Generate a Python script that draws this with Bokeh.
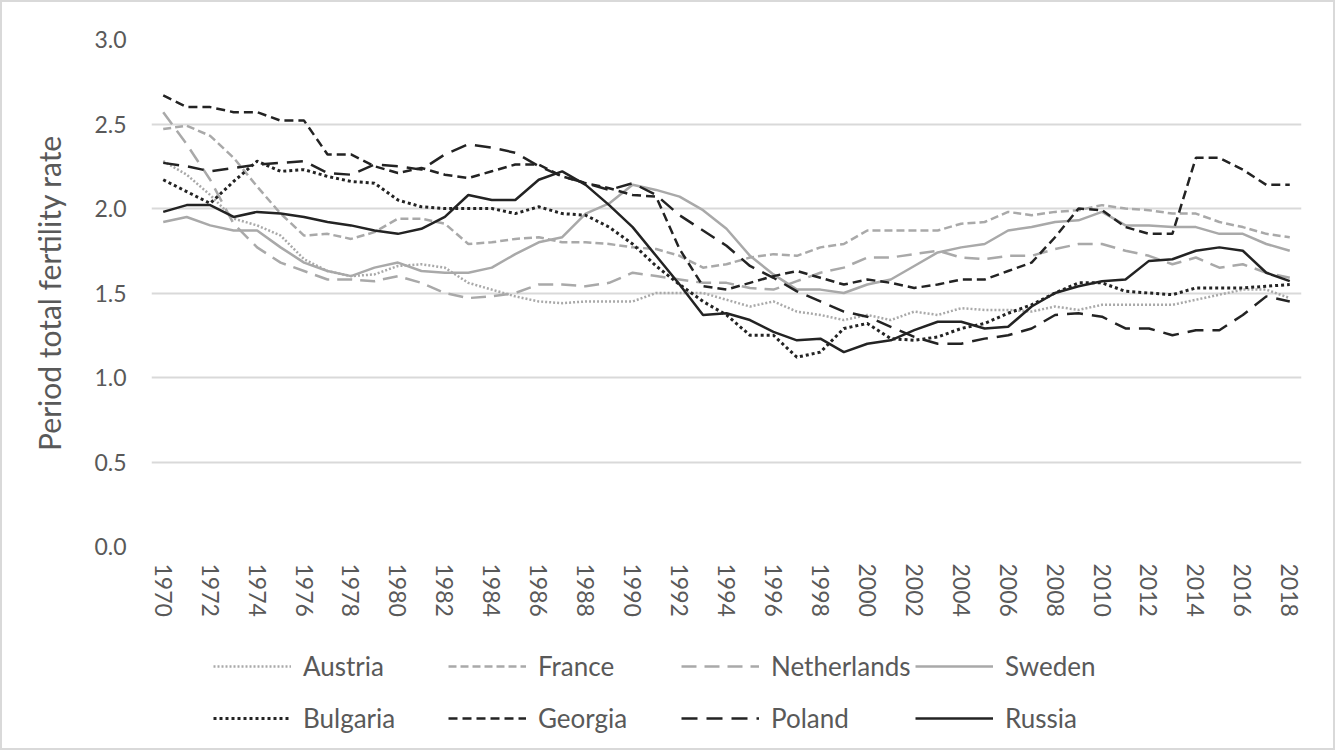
from bokeh.plotting import figure
from bokeh.layouts import column
from bokeh.models import Range1d, FixedTicker, PrintfTickFormatter, Legend, LegendItem
from bokeh.embed import file_html
from bokeh.resources import INLINE

years = list(range(1970, 2019))

austria = [2.28, 2.20, 2.08, 1.94, 1.90, 1.84, 1.70, 1.63, 1.60, 1.61,
           1.66, 1.67, 1.65, 1.56, 1.52, 1.48, 1.45, 1.44, 1.45, 1.45,
           1.45, 1.50, 1.50, 1.50, 1.46, 1.42, 1.45, 1.39, 1.37, 1.34,
           1.37, 1.34, 1.39, 1.37, 1.41, 1.40, 1.40, 1.39, 1.42, 1.40,
           1.43, 1.43, 1.43, 1.43, 1.46, 1.49, 1.52, 1.52, 1.47]
france = [2.47, 2.49, 2.43, 2.30, 2.13, 1.97, 1.84, 1.85, 1.82, 1.86,
          1.94, 1.94, 1.91, 1.79, 1.80, 1.82, 1.83, 1.80, 1.80, 1.79,
          1.77, 1.76, 1.72, 1.65, 1.67, 1.71, 1.73, 1.72, 1.77, 1.79,
          1.87, 1.87, 1.87, 1.87, 1.91, 1.92, 1.98, 1.96, 1.98, 1.99,
          2.02, 2.00, 1.99, 1.97, 1.97, 1.92, 1.89, 1.85, 1.83]
netherlands = [2.57, 2.38, 2.17, 1.91, 1.77, 1.68, 1.63, 1.58, 1.58, 1.57,
               1.60, 1.56, 1.50, 1.47, 1.48, 1.50, 1.55, 1.55, 1.54, 1.56,
               1.62, 1.60, 1.58, 1.56, 1.56, 1.53, 1.52, 1.57, 1.62, 1.65,
               1.71, 1.71, 1.73, 1.75, 1.71, 1.70, 1.72, 1.72, 1.76, 1.79,
               1.79, 1.75, 1.72, 1.67, 1.71, 1.65, 1.67, 1.62, 1.59]
sweden = [1.92, 1.95, 1.90, 1.87, 1.87, 1.77, 1.68, 1.63, 1.60, 1.65,
          1.68, 1.63, 1.62, 1.62, 1.65, 1.73, 1.80, 1.83, 1.97, 2.03,
          2.14, 2.11, 2.07, 1.99, 1.88, 1.72, 1.61, 1.52, 1.52, 1.50,
          1.55, 1.58, 1.66, 1.74, 1.77, 1.79, 1.87, 1.89, 1.92, 1.93,
          1.98, 1.90, 1.90, 1.89, 1.89, 1.85, 1.85, 1.79, 1.75]
bulgaria = [2.17, 2.10, 2.03, 2.16, 2.28, 2.22, 2.23, 2.19, 2.16, 2.15,
            2.05, 2.01, 2.00, 2.00, 2.00, 1.97, 2.01, 1.97, 1.96, 1.89,
            1.79, 1.66, 1.55, 1.45, 1.37, 1.25, 1.25, 1.12, 1.15, 1.29,
            1.32, 1.23, 1.22, 1.24, 1.29, 1.32, 1.38, 1.43, 1.50, 1.56,
            1.56, 1.51, 1.50, 1.49, 1.53, 1.53, 1.53, 1.54, 1.55]
georgia = [2.67, 2.60, 2.60, 2.57, 2.57, 2.52, 2.52, 2.32, 2.32, 2.25,
           2.21, 2.24, 2.20, 2.18, 2.22, 2.26, 2.26, 2.19, 2.15, 2.12,
           2.08, 2.07, 1.76, 1.54, 1.52, 1.56, 1.60, 1.63, 1.59, 1.55,
           1.58, 1.56, 1.53, 1.55, 1.58, 1.58, 1.63, 1.68, 1.83, 2.00,
           1.99, 1.89, 1.85, 1.85, 2.30, 2.30, 2.23, 2.14, 2.14]
poland = [2.27, 2.25, 2.22, 2.24, 2.26, 2.27, 2.28, 2.21, 2.20, 2.26,
          2.25, 2.23, 2.32, 2.38, 2.36, 2.33, 2.25, 2.19, 2.15, 2.11,
          2.15, 2.08, 1.96, 1.87, 1.78, 1.66, 1.59, 1.51, 1.45, 1.39,
          1.36, 1.30, 1.24, 1.20, 1.20, 1.23, 1.25, 1.29, 1.37, 1.38,
          1.36, 1.29, 1.29, 1.25, 1.28, 1.28, 1.37, 1.48, 1.45]
russia = [1.98, 2.02, 2.02, 1.95, 1.98, 1.97, 1.95, 1.92, 1.90, 1.87,
          1.85, 1.88, 1.95, 2.08, 2.05, 2.05, 2.17, 2.22, 2.14, 2.02,
          1.89, 1.72, 1.55, 1.37, 1.38, 1.34, 1.27, 1.22, 1.23, 1.15,
          1.20, 1.22, 1.28, 1.33, 1.33, 1.29, 1.30, 1.42, 1.50, 1.54,
          1.57, 1.58, 1.69, 1.70, 1.75, 1.77, 1.75, 1.62, 1.57]

y_ticks = [0.0, 0.5, 1.0, 1.5, 2.0, 2.5, 3.0]
x_ticks = list(range(1970, 2019, 2))

GRAY = "#a9a9a9"
BLACK = "#232323"
TXT = "#595959"
FONT = "Lato"
W = 1331

p = figure(width=W, height=624, output_backend="svg", toolbar_location=None,
           x_range=Range1d(1969.5, 2018.5), y_range=Range1d(0, 3.0),
           min_border_left=149, min_border_right=32, min_border_top=37,
           min_border_bottom=80)
p.outline_line_color = None
p.xgrid.grid_line_color = None
p.ygrid.grid_line_color = "#d9d9d9"
p.ygrid.grid_line_width = 2

p.yaxis.ticker = FixedTicker(ticks=y_ticks)
p.yaxis.formatter = PrintfTickFormatter(format="%.1f")
p.xaxis.ticker = FixedTicker(ticks=x_ticks)
p.xaxis.major_label_orientation = "vertical"

for ax in (p.xaxis, p.yaxis):
    ax.axis_line_color = None
    ax.major_tick_line_color = None
    ax.minor_tick_line_color = None
    ax.major_label_text_font = FONT
    ax.major_label_text_font_size = "23px"
    ax.major_label_text_color = TXT

p.yaxis.major_label_standoff = 19
p.xaxis.major_label_standoff = 11
p.yaxis.axis_label = "Period total fertility rate"
p.yaxis.axis_label_text_font = FONT
p.yaxis.axis_label_text_font_size = "30px"
p.yaxis.axis_label_text_font_style = "normal"
p.yaxis.axis_label_text_color = TXT
p.yaxis.axis_label_standoff = 24

series = [
    ("Austria", austria, GRAY, 2.5, "2 2"),
    ("France", france, GRAY, 2.5, "8 4"),
    ("Netherlands", netherlands, GRAY, 2.5, "15 8"),
    ("Sweden", sweden, GRAY, 2.5, "solid"),
    ("Bulgaria", bulgaria, BLACK, 3, "3 3"),
    ("Georgia", georgia, BLACK, 2.5, "9 5"),
    ("Poland", poland, BLACK, 2.5, "16 9"),
    ("Russia", russia, BLACK, 2.5, "solid"),
]

for name, vals, col, w, dash in series:
    p.line(years, vals, line_color=col, line_width=w, line_dash=dash)

# legend panel: same series, drawn outside its visible range so only the keys show
pl = figure(width=W, height=122, output_backend="svg", toolbar_location=None,
            x_range=Range1d(1969.5, 2018.5), y_range=Range1d(10, 11),
            x_axis_location=None, y_axis_location=None,
            min_border_left=0, min_border_right=0, min_border_top=0,
            min_border_bottom=0)
pl.outline_line_color = None
pl.grid.grid_line_color = None

keys = {}
for name, vals, col, w, dash in series:
    keys[name] = pl.line(years, vals, line_color=col, line_width=w, line_dash=dash)

cols = [("Austria", "Bulgaria", 62), ("France", "Georgia", 297),
        ("Netherlands", "Poland", 530), ("Sweden", "Russia", 764)]
for a, b, xoff in cols:
    leg = Legend(items=[LegendItem(label=a, renderers=[keys[a]]),
                        LegendItem(label=b, renderers=[keys[b]])],
                 location=(xoff, 14), orientation="vertical",
                 glyph_width=78, glyph_height=28, label_height=28,
                 label_standoff=12, spacing=20, padding=0, margin=0,
                 border_line_color=None, background_fill_alpha=0,
                 label_text_font=FONT, label_text_font_size="26px",
                 label_text_color=TXT)
    pl.add_layout(leg, "center")

layout = column(p, pl, spacing=0, styles={"border": "2px solid #d9d9d9"})

open("out.html", "w").write(file_html(layout, INLINE))
